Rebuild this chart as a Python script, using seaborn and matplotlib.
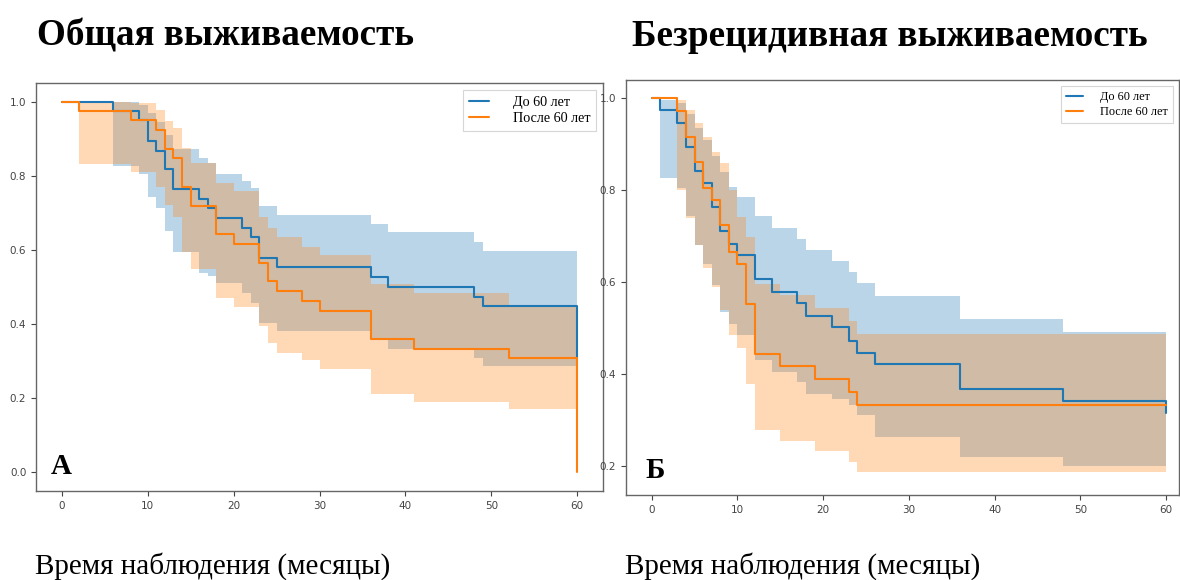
import numpy as np
import pandas as pd
import matplotlib
matplotlib.use("Agg")
import matplotlib.pyplot as plt
import seaborn as sns

# ---------------- data ----------------
group_labels = ["До 60 лет", "После 60 лет"]
titles = ["Общая выживаемость", "Безрецидивная выживаемость"]
panel_letters = ["А", "Б"]
xlabel_text = "Время наблюдения (месяцы)"

# Panel A: overall survival, < 60 years
os_t_young = [0, 6, 9, 10, 11, 12, 13, 16, 17, 18, 21, 22, 23, 25, 36, 38, 48, 49, 60]
os_s_young = [1.0, 0.975, 0.95, 0.894, 0.868, 0.817, 0.763, 0.737, 0.712, 0.686, 0.660, 0.634,
              0.579, 0.553, 0.528, 0.501, 0.474, 0.449, 0.31]
os_lo_young = [1.0, 0.826, 0.804, 0.743, 0.714, 0.652, 0.594, 0.537, 0.530, 0.510, 0.483, 0.457,
               0.404, 0.382, 0.360, 0.333, 0.308, 0.286, 0.286]
os_hi_young = [1.0, 0.998, 0.99, 0.968, 0.945, 0.91, 0.871, 0.849, 0.835, 0.806, 0.786, 0.766,
               0.718, 0.695, 0.670, 0.647, 0.622, 0.597, 0.597]

# Panel A: overall survival, > 60 years
os_t_old = [0, 2, 8, 11, 12, 13, 14, 15, 18, 20, 23, 24, 25, 28, 30, 36, 41, 52, 60]
os_s_old = [1.0, 0.975, 0.95, 0.923, 0.873, 0.847, 0.769, 0.718, 0.642, 0.616, 0.566, 0.515,
            0.488, 0.461, 0.436, 0.36, 0.333, 0.308, 0.0]
os_lo_old = [1.0, 0.831, 0.81, 0.77, 0.72, 0.69, 0.595, 0.549, 0.47, 0.445, 0.394, 0.349,
             0.323, 0.302, 0.279, 0.212, 0.191, 0.172, 0.172]
os_hi_old = [1.0, 1.0, 0.995, 0.977, 0.947, 0.93, 0.874, 0.835, 0.78, 0.76, 0.69, 0.658,
             0.636, 0.609, 0.585, 0.509, 0.483, 0.452, 0.452]

# Panel B: relapse-free survival, < 60 years
rfs_t_young = [0, 1, 3, 4, 5, 6, 7, 8, 9, 10, 12, 14, 17, 18, 21, 23, 24, 26, 36, 48, 60]
rfs_s_young = [1.0, 0.975, 0.946, 0.895, 0.841, 0.816, 0.763, 0.711, 0.684, 0.659, 0.607, 0.579,
               0.554, 0.527, 0.503, 0.473, 0.447, 0.422, 0.367, 0.342, 0.315]
rfs_lo_young = [1.0, 0.826, 0.806, 0.745, 0.68, 0.64, 0.593, 0.535, 0.508, 0.485, 0.43, 0.405,
                0.382, 0.357, 0.345, 0.332, 0.311, 0.264, 0.22, 0.20, 0.20]
rfs_hi_young = [1.0, 0.997, 0.99, 0.965, 0.935, 0.91, 0.875, 0.84, 0.808, 0.786, 0.743, 0.718,
                0.694, 0.67, 0.646, 0.623, 0.598, 0.571, 0.519, 0.491, 0.491]

# Panel B: relapse-free survival, > 60 years
rfs_t_old = [0, 3, 4, 5, 6, 7, 8, 9, 10, 11, 12, 15, 19, 23, 24, 60]
rfs_s_old = [1.0, 0.972, 0.917, 0.861, 0.805, 0.779, 0.724, 0.666, 0.639, 0.552, 0.444, 0.417,
             0.389, 0.362, 0.333, 0.333]
rfs_lo_old = [1.0, 0.80, 0.74, 0.68, 0.63, 0.59, 0.54, 0.486, 0.457, 0.378, 0.278, 0.255,
              0.232, 0.209, 0.187, 0.187]
rfs_hi_old = [1.0, 0.996, 0.975, 0.946, 0.915, 0.883, 0.86, 0.80, 0.741, 0.699, 0.597, 0.572,
              0.543, 0.516, 0.487, 0.487]

x_ticks = [0, 10, 20, 30, 40, 50, 60]
y_ticks_a = [0.0, 0.2, 0.4, 0.6, 0.8, 1.0]
y_ticks_b = [0.2, 0.4, 0.6, 0.8, 1.0]

# ---------------- style ----------------
sns.set_theme(style="white")
plt.rcParams["font.family"] = ["DejaVu Sans"]
plt.rcParams["text.color"] = "black"
SERIF = ["Liberation Serif", "DejaVu Serif"]
colors = ["#1f77b4", "#ff7f0e"]

fig = plt.figure(figsize=(11.8, 5.8), dpi=100)
W, H = 1180, 580


def px_axes(left, top, right, bottom):
    return fig.add_axes([left / W, 1 - bottom / H, (right - left) / W, (bottom - top) / H])


ax_a = px_axes(36, 83, 603, 491)
ax_b = px_axes(626, 80, 1179, 495)

panels = [
    (ax_a, [(os_t_young, os_s_young, os_lo_young, os_hi_young),
            (os_t_old, os_s_old, os_lo_old, os_hi_old)], y_ticks_a, (-0.05, 1.05), (-3, 63), 10.2, 1.7),
    (ax_b, [(rfs_t_young, rfs_s_young, rfs_lo_young, rfs_hi_young),
            (rfs_t_old, rfs_s_old, rfs_lo_old, rfs_hi_old)], y_ticks_b, (0.137, 1.04), (-3, 61.5), 8.8, 1.4),
]

for i, (ax, groups, yt, ylim, xlim, legsize, pad) in enumerate(panels):
    for (t, s, lo, hi), col, lab in zip(groups, colors, group_labels):
        df = pd.DataFrame({"t": t, "s": s})
        sns.lineplot(data=df, x="t", y="s", ax=ax, color=col, linewidth=1.5,
                     drawstyle="steps-post", estimator=None, label=lab, sort=False)
        ax.fill_between(t, lo, hi, step="post", color=col, alpha=0.3, linewidth=0)
    ax.set_xlim(*xlim)
    ax.set_ylim(*ylim)
    ax.set_xticks(x_ticks)
    ax.set_yticks(yt)
    ax.set_xticklabels([str(v) for v in x_ticks])
    ax.set_yticklabels([f"{v:.1f}" for v in yt])
    ax.set_xlabel("")
    ax.set_ylabel("")
    ax.tick_params(axis="both", labelsize=7.5, colors="#444444", length=3.5, width=0.8,
                   direction="out", left=True, bottom=True)
    for sp in ax.spines.values():
        sp.set_color("#666666")
        sp.set_linewidth(1.0)
        sp.set_visible(True)
    leg = ax.legend(loc="upper right", prop={"family": SERIF, "size": legsize},
                    frameon=True, fancybox=False, handlelength=1.4, handletextpad=pad,
                    borderpad=0.4, labelspacing=0.25)
    leg.get_frame().set_edgecolor("#cccccc")
    leg.get_frame().set_linewidth(0.8)
    for txt in leg.get_texts():
        txt.set_color("black")

ax_a.text(0.044, 0.06, panel_letters[0], transform=ax_a.transAxes, ha="center", va="center",
          fontsize=21, fontweight="bold", family=SERIF, color="black")
ax_b.text(0.052, 0.06, panel_letters[1], transform=ax_b.transAxes, ha="center", va="center",
          fontsize=21, fontweight="bold", family=SERIF, color="black")

fig.text(37 / W, 1 - 36 / H, titles[0], ha="left", va="center", fontsize=26.7,
         fontweight="bold", family=SERIF, color="black")
fig.text(632 / W, 1 - 36 / H, titles[1], ha="left", va="center", fontsize=26.7,
         fontweight="bold", family=SERIF, color="black")
fig.text(35 / W, 1 - 566 / H, xlabel_text, ha="left", va="center", fontsize=21, family=SERIF,
         color="black")
fig.text(625 / W, 1 - 566 / H, xlabel_text, ha="left", va="center", fontsize=21, family=SERIF,
         color="black")

fig.savefig("out.png", dpi=100)
